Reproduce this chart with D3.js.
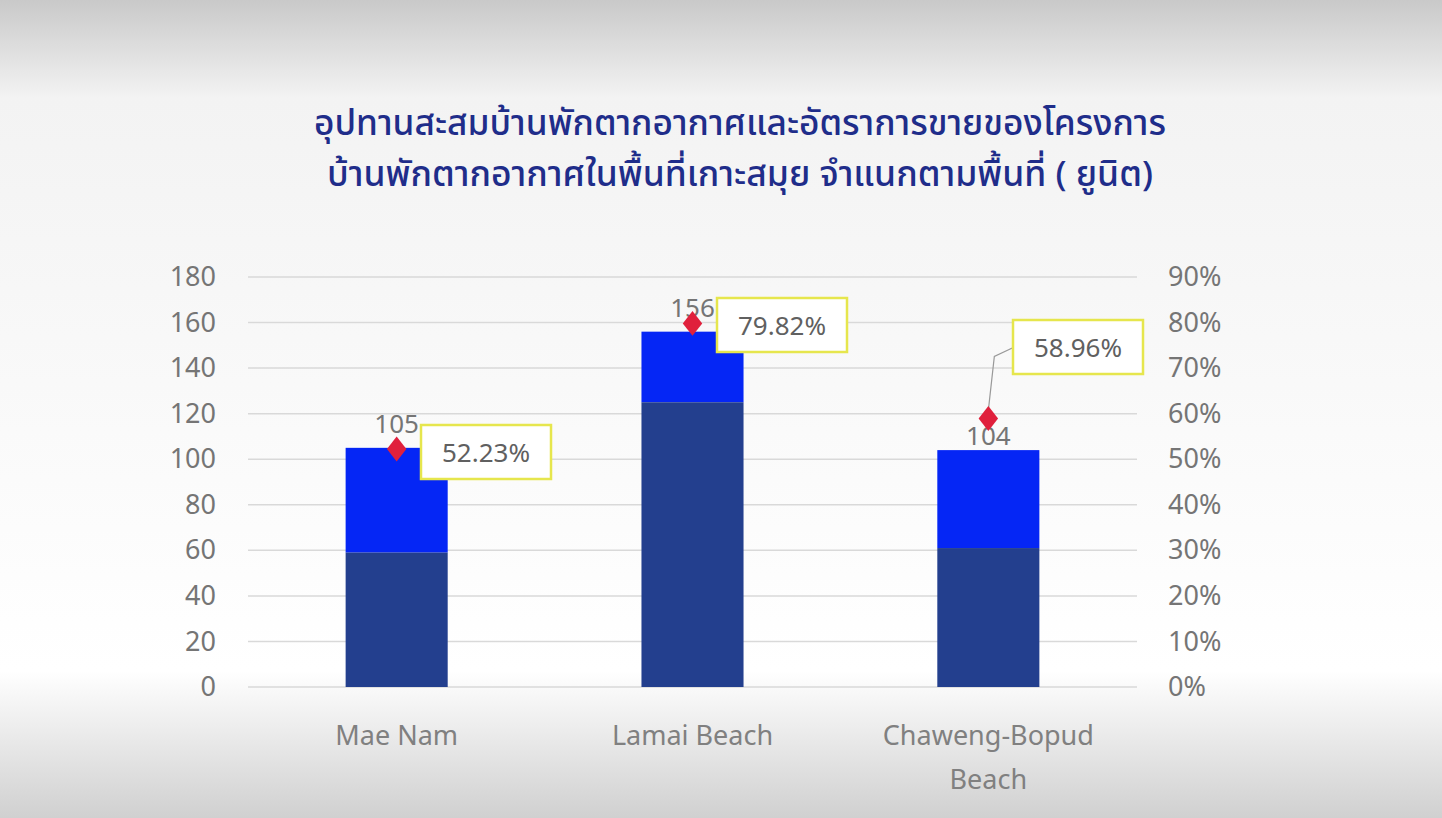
<!DOCTYPE html>
<html><head><meta charset="utf-8">
<script src="https://cdn.jsdelivr.net/npm/d3@7"></script>
<style>body{margin:0;}</style>
</head><body><div id="chart"></div>
<script>
const categories = ["Mae Nam", "Lamai Beach", "Chaweng-Bopud Beach"];
const soldUnits = [59, 125, 61];
const totalUnits = [105, 156, 104];
const salesRate = [52.23, 79.82, 58.96];
const leftTicks = [0, 20, 40, 60, 80, 100, 120, 140, 160, 180];
const rightTicks = [0, 10, 20, 30, 40, 50, 60, 70, 80, 90];

const W = 1442, H = 818;
const svg = d3.select("#chart").append("svg").attr("width", W).attr("height", H);

const defs = svg.append("defs");
const bg = defs.append("linearGradient").attr("id", "bg").attr("x1", 0).attr("x2", 0).attr("y1", 0).attr("y2", 1);
bg.append("stop").attr("offset", "0%").attr("stop-color", "#c9c9c9");
bg.append("stop").attr("offset", "12%").attr("stop-color", "#f3f3f3");
bg.append("stop").attr("offset", "82%").attr("stop-color", "#ffffff");
bg.append("stop").attr("offset", "100%").attr("stop-color", "#d0d0d0");
svg.append("rect").attr("width", W).attr("height", H).attr("fill", "url(#bg)");

const font = "'Noto Sans', 'Noto Sans Thai', sans-serif";
svg.append("text").attr("x", 740).attr("y", 135).attr("text-anchor", "middle")
    .attr("font-family", font).attr("font-size", "35px").attr("font-weight", 500).attr("fill", "#1f2d8a")
    .attr("textLength", 852).attr("lengthAdjust", "spacingAndGlyphs")
    .text("อุปทานสะสมบ้านพักตากอากาศและอัตราการขายของโครงการ");
svg.append("text").attr("x", 740).attr("y", 186).attr("text-anchor", "middle")
    .attr("font-family", font).attr("font-size", "35px").attr("font-weight", 500).attr("fill", "#1f2d8a")
    .attr("textLength", 826).attr("lengthAdjust", "spacingAndGlyphs")
    .text("บ้านพักตากอากาศในพื้นที่เกาะสมุย จำแนกตามพื้นที่ ( ยูนิต)");

const x = d3.scaleBand().domain(categories).range([248, 1137]).paddingInner(0.655).paddingOuter(0.33);
const y = d3.scaleLinear().domain([0, 180]).range([687, 277]);
const y2 = d3.scaleLinear().domain([0, 90]).range([687, 277]);

svg.append("g").selectAll("line").data(leftTicks).join("line")
    .attr("x1", 248).attr("x2", 1137).attr("y1", d => y(d)).attr("y2", d => y(d))
    .attr("stroke", "#d9d9d9").attr("stroke-width", 1.5);

const axisStyle = g => {
    g.select(".domain").remove();
    g.selectAll(".tick line").remove();
    g.selectAll("text").attr("font-family", font).attr("font-size", "27px").attr("fill", "#757575");
};
svg.append("g").attr("transform", "translate(216,0)")
    .call(d3.axisLeft(y).tickValues(leftTicks).tickSize(0).tickPadding(0)).call(axisStyle);
svg.append("g").attr("transform", "translate(1168,0)")
    .call(d3.axisRight(y2).tickValues(rightTicks).tickFormat(d => d + "%").tickSize(0).tickPadding(0)).call(axisStyle);

categories.forEach((c, i) => {
    svg.append("rect").attr("x", x(c)).attr("width", x.bandwidth())
        .attr("y", y(totalUnits[i])).attr("height", y(soldUnits[i]) - y(totalUnits[i])).attr("fill", "#0526f5");
    svg.append("rect").attr("x", x(c)).attr("width", x.bandwidth())
        .attr("y", y(soldUnits[i])).attr("height", y(0) - y(soldUnits[i])).attr("fill", "#233f8e");
});

categories.forEach((c, i) => {
    const cx = x(c) + x.bandwidth() / 2;
    const lines = c === "Chaweng-Bopud Beach" ? ["Chaweng-Bopud", "Beach"] : [c];
    lines.forEach((l, j) => svg.append("text").attr("x", cx).attr("y", 745 + j * 44)
        .attr("text-anchor", "middle").attr("font-family", font).attr("font-size", "27px")
        .attr("fill", "#808080").text(l));
    svg.append("text").attr("x", cx).attr("y", y(totalUnits[i]) - 15 + (i === 2 ? 10 : 0))
        .attr("text-anchor", "middle").attr("font-family", font).attr("font-size", "26px")
        .attr("fill", "#757575").text(totalUnits[i]);
});

const cx3 = x(categories[2]) + x.bandwidth() / 2;
svg.append("polyline").attr("points", `${cx3},${y2(salesRate[2]) - 8} ${cx3 + 6},${y2(salesRate[2]) - 62} ${x(categories[2]) + 75},${348}`)
    .attr("fill", "none").attr("stroke", "#999").attr("stroke-width", 1.2);

categories.forEach((c, i) => {
    const cx = x(c) + x.bandwidth() / 2;
    svg.append("path").attr("d", d3.symbol(d3.symbolDiamond, 180)())
        .attr("transform", `translate(${cx},${y2(salesRate[i])}) scale(1.35,1)`).attr("fill", "#e0203c");
});

const labelPos = [[421, 425], [717, 298], [1013, 320]];
categories.forEach((c, i) => {
    const [lx, ly] = labelPos[i];
    svg.append("rect").attr("x", lx).attr("y", ly).attr("width", 130).attr("height", 54)
        .attr("fill", "#fff").attr("stroke", "#e6e64d").attr("stroke-width", 2.5);
    svg.append("text").attr("x", lx + 65).attr("y", ly + 37).attr("text-anchor", "middle")
        .attr("font-family", font).attr("font-size", "26px").attr("fill", "#606060")
        .text(salesRate[i].toFixed(2) + "%");
});
</script></body></html>
